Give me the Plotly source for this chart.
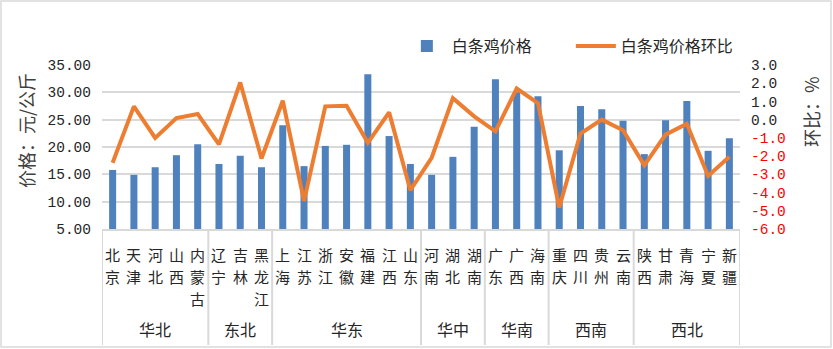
import plotly.graph_objects as go

# 各省白条鸡价格（元/公斤）及环比（%）
provinces = ["北京", "天津", "河北", "山西", "内蒙古",
             "辽宁", "吉林", "黑龙江",
             "上海", "江苏", "浙江", "安徽", "福建", "江西", "山东",
             "河南", "湖北", "湖南",
             "广东", "广西", "海南",
             "重庆", "四川", "贵州", "云南",
             "陕西", "甘肃", "青海", "宁夏", "新疆"]
price = [15.8, 14.9, 16.3, 18.5, 20.5,
         16.9, 18.4, 16.3,
         24.0, 16.5, 20.2, 20.4, 33.3, 22.0, 16.9,
         14.9, 18.2, 23.7,
         32.4, 30.0, 29.3,
         19.4, 27.5, 26.9, 24.8,
         18.7, 24.9, 28.4, 19.3, 21.6]
mom = [-2.36, 0.73, -1.0, 0.09, 0.31,
       -1.36, 2.04, -2.13,
       1.04, -4.46, 0.73, 0.76, -1.27, 0.40, -3.87,
       -2.09, 1.18, 0.18,
       -0.64, 1.71, 0.91,
       -4.82, -0.76, 0.0, -0.58,
       -2.51, -0.82, -0.22, -3.09, -2.04]
regions = ["华北", "东北", "华东", "华中", "华南", "西南", "西北"]
region_sizes = [5, 3, 7, 3, 3, 4, 5]

left_ticks = [5, 10, 15, 20, 25, 30, 35]
right_ticks = [-6, -5, -4, -3, -2, -1, 0, 1, 2, 3]

W, H = 833, 349
ML, MR, MT, MB = 102, 93, 65, 120
PW, PH = W - ML - MR, H - MT - MB
BASE = MT + PH  # 横轴所在像素行

CJK = "Noto Sans CJK SC"
MONO = "Liberation Mono"
GRID = "#D9D9D9"
TEXT = "#262626"


def py(pixel_row):
    """像素行 -> 纸面坐标（以绘图区为基准）"""
    return (BASE - pixel_row) / PH


fig = go.Figure()
fig.add_trace(go.Bar(
    x=provinces, y=price, name="白条鸡价格",
    marker=dict(color="#4F81BD", line=dict(width=0)),
    width=0.33, yaxis="y",
))
fig.add_trace(go.Scatter(
    x=provinces, y=mom, name="白条鸡价格环比", mode="lines",
    line=dict(color="#ED7D31", width=4, shape="linear"),
    yaxis="y2",
))

# 右轴：负值用红色显示
right_text = [
    (f'<span style="color:#FF0000">{v:.1f}</span>' if v < 0 else f"{v:.1f}")
    for v in right_ticks
]

fig.update_layout(
    width=W, height=H,
    margin=dict(l=ML, r=MR, t=MT, b=MB, pad=0),
    paper_bgcolor="white", plot_bgcolor="white",
    showlegend=True,
    legend=dict(orientation="h", x=0.47, xanchor="left",
                y=py(46), yanchor="middle",
                font=dict(family=CJK, size=16, color=TEXT),
                itemwidth=40, entrywidth=114, tracegroupgap=0,
                bgcolor="rgba(0,0,0,0)"),
    bargap=0.67,
    xaxis=dict(
        type="category",
        showticklabels=False,
        ticks="", showgrid=False,
        showline=True, linecolor=GRID, linewidth=2,
        range=[-0.5, len(provinces) - 0.5],
    ),
    yaxis=dict(
        range=[5, 35], tickvals=left_ticks,
        ticktext=[f"{v:.2f}" for v in left_ticks],
        tickfont=dict(family=MONO, size=14.5, color=TEXT),
        showgrid=True, gridcolor=GRID, gridwidth=2,
        zeroline=False, showline=False, ticks="",
        ticklabelstandoff=10,
    ),
    yaxis2=dict(
        range=[-6, 3], tickvals=right_ticks, ticktext=right_text,
        tickfont=dict(family=MONO, size=14.5, color=TEXT),
        overlaying="y", side="right",
        showgrid=False, zeroline=False, showline=False, ticks="",
        ticklabelstandoff=10,
    ),
)

shapes = []
# 区域分隔线
bounds = [-0.5]
for s in region_sizes:
    bounds.append(bounds[-1] + s)
for b in bounds:
    shapes.append(dict(type="line", xref="x", yref="paper",
                       x0=b, x1=b, y0=0, y1=py(345),
                       line=dict(color=GRID, width=2)))
# 外框
shapes.append(dict(type="rect", xref="paper", yref="paper",
                   x0=(1 - ML) / PW, x1=(W - 2 - ML) / PW,
                   y0=py(H - 2), y1=py(1),
                   line=dict(color=GRID, width=1.5), layer="below"))
fig.update_layout(shapes=shapes)

annotations = []
# 省份名称：竖排，每字一行
ROW0, ROW_STEP = 254.5, 21.8
for name in provinces:
    for k, ch in enumerate(name):
        annotations.append(dict(
            text=ch, x=name, xref="x",
            y=py(ROW0 + k * ROW_STEP), yref="paper",
            showarrow=False, xanchor="center", yanchor="middle",
            font=dict(family=CJK, size=15, color=TEXT)))
# 区域名称
for name, lo, hi in zip(regions, bounds[:-1], bounds[1:]):
    annotations.append(dict(
        text=name, x=(lo + hi) / 2, xref="x",
        y=py(329), yref="paper",
        showarrow=False, xanchor="center", yanchor="middle",
        font=dict(family=CJK, size=16, color=TEXT)))
annotations.append(dict(
    text="价格：元/公斤", textangle=-90,
    x=(26 - ML) / PW, xref="paper", y=py(131), yref="paper",
    showarrow=False, xanchor="center", yanchor="middle",
    font=dict(family=CJK, size=18, color="#404040")))
annotations.append(dict(
    text="环比：%", textangle=-90,
    x=(811 - ML) / PW, xref="paper", y=py(112), yref="paper",
    showarrow=False, xanchor="center", yanchor="middle",
    font=dict(family=CJK, size=18, color="#404040")))
fig.update_layout(annotations=annotations)

fig.write_html("out.html")
